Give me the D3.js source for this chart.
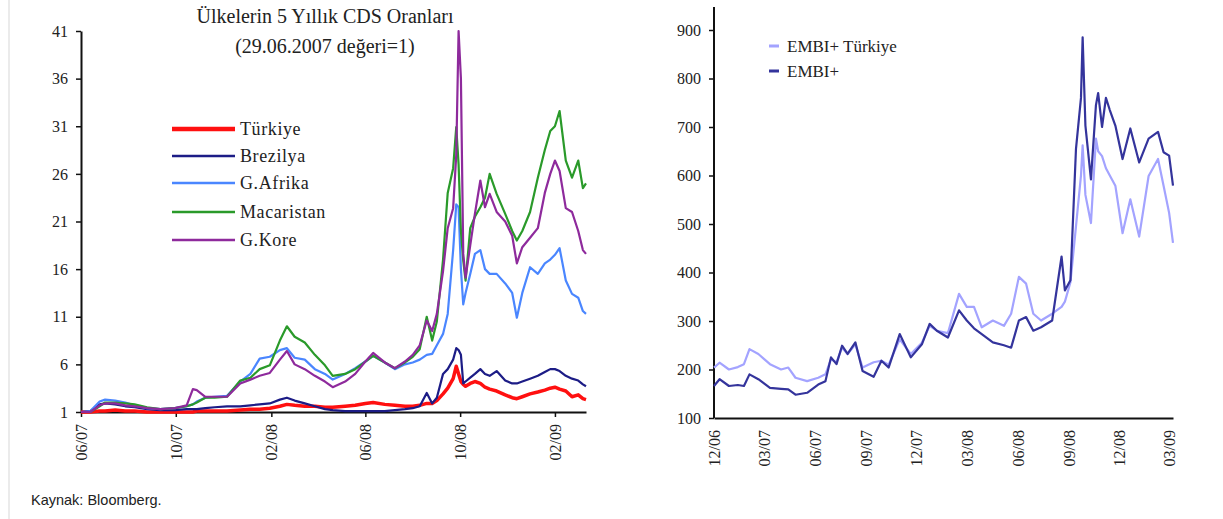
<!DOCTYPE html>
<html>
<head>
<meta charset="utf-8">
<script src="https://cdn.jsdelivr.net/npm/d3@7"></script>
<style>
  body { margin: 0; background: #fff; }
  svg { display: block; }
  .tick text { font-family: "Liberation Serif", "Times New Roman", serif; fill: #222; }
</style>
</head>
<body>
<div id="chart"></div>
<script>
// ---- left chart: 5-year CDS, 29.06.2007 = 1 ----
var cdsDates = ["2007-06-29","2007-07-11","2007-07-23","2007-07-30","2007-08-12","2007-08-25","2007-09-06","2007-09-22",
  "2007-10-09","2007-10-28","2007-11-12","2007-11-20","2007-11-25","2007-12-06","2007-12-18","2008-01-03","2008-01-20",
  "2008-02-02","2008-02-14","2008-02-27","2008-03-11","2008-03-20","2008-03-30","2008-04-12","2008-04-25","2008-05-08",
  "2008-05-18","2008-06-03","2008-06-16","2008-06-29","2008-07-09","2008-07-24","2008-08-06","2008-08-19","2008-08-29",
  "2008-09-07","2008-09-16","2008-09-23","2008-09-29","2008-10-07","2008-10-13","2008-10-20","2008-10-24","2008-10-27",
  "2008-10-30","2008-11-02","2008-11-05","2008-11-11","2008-11-17","2008-11-24","2008-11-30","2008-12-06","2008-12-15",
  "2008-12-26","2009-01-04","2009-01-10","2009-01-17","2009-01-27","2009-02-06","2009-02-15","2009-02-22","2009-02-28",
  "2009-03-06","2009-03-14","2009-03-22","2009-03-30","2009-04-05","2009-04-09"];
var turkiye = [1,1.0,1.1,1.1,1.2,1.1,1.1,1.0,1.0,1.0,1.0,1.0,1.1,1.1,1.1,1.1,1.2,1.3,1.3,1.4,1.6,1.8,1.7,1.6,1.6,1.5,
  1.5,1.6,1.7,1.9,2.0,1.8,1.7,1.6,1.6,1.7,1.9,1.9,2.2,2.9,3.5,4.5,5.8,5.0,4.2,3.9,3.7,4.0,4.2,4.0,3.6,3.4,3.2,
  2.8,2.5,2.4,2.6,2.9,3.1,3.3,3.5,3.6,3.4,3.2,2.6,2.8,2.4,2.3];
var brezilya = [1,1.1,1.8,1.9,1.8,1.6,1.5,1.3,1.2,1.2,1.3,1.3,1.3,1.4,1.5,1.6,1.6,1.7,1.8,1.9,2.3,2.5,2.2,1.9,1.6,1.3,
  1.2,1.1,1.1,1.1,1.1,1.1,1.2,1.3,1.4,1.6,3.0,1.9,2.5,5.0,5.5,6.5,7.7,7.5,7.0,4.0,4.2,4.6,5.0,5.5,5.0,4.8,5.3,
  4.3,4.0,4.0,4.2,4.5,4.8,5.2,5.5,5.5,5.3,4.8,4.5,4.3,3.9,3.7];
var gAfrika = [1,1.1,2.1,2.3,2.2,2.0,1.7,1.4,1.3,1.4,1.6,1.8,2.1,2.5,2.6,2.7,4.2,5.0,6.6,6.8,7.5,7.7,6.7,6.5,5.5,5.0,
  4.4,5.0,5.6,6.3,6.9,6.2,5.5,6.0,6.2,6.5,7.0,7.1,8.0,9.2,11.3,18.0,22.8,22.5,16.0,12.3,13.5,15.5,17.6,18.0,16.0,
  15.5,15.5,14.5,13.5,10.9,13.5,16.2,15.5,16.6,17.0,17.5,18.2,14.8,13.4,13.0,11.6,11.3];
var macaristan = [1,1.0,1.6,2.0,2.0,1.9,1.8,1.5,1.3,1.4,1.6,1.8,2.0,2.5,2.5,2.6,4.3,4.6,5.5,5.9,8.5,10.0,8.9,8.3,7.0,
  5.9,4.8,5.0,5.5,6.3,6.9,6.2,5.6,6.2,6.8,7.6,11.0,8.5,10.5,17.0,24.0,26.6,30.9,27.0,20.0,16.9,14.8,20.3,21.5,22.5,
  23.5,26.0,23.9,21.8,20.0,19.0,20.0,22.0,25.6,28.5,30.5,31.0,32.6,27.4,25.6,27.4,24.5,25.0];
var gKore = [1,1.0,1.7,1.9,1.9,1.7,1.6,1.4,1.3,1.4,1.7,3.4,3.3,2.6,2.6,2.6,4.0,4.4,4.8,5.1,6.5,7.4,6.0,5.5,4.8,4.2,
  3.6,4.2,5.0,6.3,7.2,6.2,5.6,6.3,7.0,8.0,10.6,9.5,11.3,15.8,20.3,22.4,28.0,41.0,36.0,17.6,15.1,18.5,21.8,25.3,22.5,
  23.9,22.0,21.0,19.5,16.6,18.3,19.3,20.3,24.0,26.0,27.4,26.3,22.4,22.0,20.0,18.0,17.6];
var cdsNames = ["Türkiye", "Brezilya", "G.Afrika", "Macaristan", "G.Kore"];
var cdsColors = ["#ff1010", "#1c1c86", "#4a86ff", "#2a9a2a", "#8e2a9c"];
var cdsYTicks = [1, 6, 11, 16, 21, 26, 31, 36, 41];
var cdsXTicks = ["2007-06-29","2007-10-29","2008-02-29","2008-06-29","2008-10-29","2009-02-28"];

// ---- right chart: EMBI+ spreads ----
var embiDates = ["2006-12-29","2007-01-08","2007-01-25","2007-02-10","2007-02-21","2007-03-03","2007-03-19","2007-04-09",
  "2007-04-29","2007-05-12","2007-05-25","2007-06-15","2007-07-05","2007-07-18","2007-07-28","2007-08-07","2007-08-17",
  "2007-08-27","2007-09-10","2007-09-23","2007-10-13","2007-10-27","2007-11-09","2007-11-29","2007-12-19","2008-01-08",
  "2008-01-22","2008-02-04","2008-02-24","2008-03-15","2008-03-29","2008-04-11","2008-04-25","2008-05-15","2008-06-04",
  "2008-06-17","2008-07-01","2008-07-14","2008-07-27","2008-08-10","2008-08-30","2008-09-16","2008-09-22","2008-10-02",
  "2008-10-12","2008-10-21","2008-10-24","2008-10-29","2008-11-08","2008-11-17","2008-11-21","2008-11-28","2008-12-05",
  "2008-12-12","2008-12-22","2009-01-04","2009-01-18","2009-02-03","2009-02-20","2009-03-09","2009-03-19","2009-03-29",
  "2009-04-05"];
var embiTurkiye = [204,214,200,205,211,242,232,211,200,204,183,176,183,190,221,215,245,232,252,204,215,218,210,262,232,
  255,290,280,275,356,329,329,287,301,290,315,391,377,315,301,315,329,340,380,495,600,662,560,502,676,650,640,615,600,
  579,481,551,474,599,634,579,523,461];
var embiPlus = [166,180,166,168,166,190,180,162,160,159,148,152,169,176,225,211,249,232,256,197,185,218,204,273,225,
  252,294,280,266,322,301,285,273,256,250,245,301,308,280,287,301,433,363,384,655,760,885,703,592,745,770,700,760,735,
  703,634,697,627,676,690,648,641,579];
var embiNames = ["EMBI+ Türkiye", "EMBI+"];
var embiColors = ["#a3a3ff", "#34349c"];
var embiYTicks = [100, 200, 300, 400, 500, 600, 700, 800, 900];
var embiXTicks = ["2006-12-29","2007-03-29","2007-06-29","2007-09-29","2007-12-29","2008-03-29","2008-06-29",
  "2008-09-29","2008-12-29","2009-03-29"];

var W = 1223, H = 519;
var parse = d3.timeParse("%Y-%m-%d");
var fmt = d3.timeFormat("%m/%y");
var serif = '"Liberation Serif", "Times New Roman", serif';

var svg = d3.select("#chart").append("svg")
  .attr("width", W)
  .attr("height", H);

svg.append("rect").attr("width", W).attr("height", H).attr("fill", "#fff");
svg.append("line")
  .attr("x1", 9).attr("x2", 9).attr("y1", 0).attr("y2", H)
  .attr("stroke", "#e4e4e4").attr("stroke-width", 1.5);

function styleAxis(g) {
  g.select(".domain").attr("stroke", "#111").attr("stroke-width", 2);
  g.selectAll(".tick line").attr("stroke", "#111").attr("stroke-width", 1.5);
  g.selectAll(".tick text").style("font-size", "16px");
}

function rotateLabels(g) {
  g.selectAll(".tick text")
    .attr("transform", "rotate(-90)")
    .attr("text-anchor", "end")
    .attr("x", -12)
    .attr("y", 0)
    .attr("dy", "0.35em");
}

// ---------- left chart ----------
var xL = d3.scaleTime()
  .domain([parse("2007-06-29"), parse("2009-04-09")])
  .range([81, 586]);
var yL = d3.scaleLinear()
  .domain([1, 41])
  .range([412, 31]);

var gLy = svg.append("g")
  .attr("transform", "translate(81,0)")
  .call(d3.axisLeft(yL).tickValues(cdsYTicks).tickSize(5).tickSizeOuter(0).tickPadding(8));
styleAxis(gLy);

var gLx = svg.append("g")
  .attr("transform", "translate(0,412)")
  .call(d3.axisBottom(xL).tickValues(cdsXTicks.map(parse)).tickFormat(fmt).tickSize(5).tickSizeOuter(0));
styleAxis(gLx);
rotateLabels(gLx);

var cdsSeries = [turkiye, brezilya, gAfrika, macaristan, gKore];
var lineL = d3.line()
  .x(d => xL(d.date))
  .y(d => yL(d.v));

cdsSeries.forEach(function(vals, i) {
  var data = cdsDates.map((d, j) => ({date: parse(d), v: vals[j]}));
  svg.append("path")
    .datum(data)
    .attr("fill", "none")
    .attr("stroke", cdsColors[i])
    .attr("stroke-width", i === 0 ? 3.5 : 2.2)
    .attr("stroke-linejoin", "round")
    .attr("d", lineL);
});

// title
svg.append("text")
  .attr("x", 325).attr("y", 23)
  .attr("text-anchor", "middle")
  .style("font-family", serif).style("font-size", "20px").style("fill", "#222")
  .text("Ülkelerin 5 Yıllık CDS Oranları");
svg.append("text")
  .attr("x", 325).attr("y", 53)
  .attr("text-anchor", "middle")
  .style("font-family", serif).style("font-size", "20px").style("fill", "#222")
  .text("(29.06.2007 değeri=1)");

// legend
var legL = svg.append("g");
cdsNames.forEach(function(name, i) {
  var yy = [129, 156, 183, 212, 240][i];
  legL.append("line")
    .attr("x1", 172).attr("x2", 235).attr("y1", yy).attr("y2", yy)
    .attr("stroke", cdsColors[i])
    .attr("stroke-width", i === 0 ? 4.5 : 2.5);
  legL.append("text")
    .attr("x", 240).attr("y", yy + 6)
    .style("font-family", serif).style("font-size", "18px").style("letter-spacing", "0.6px").style("fill", "#222")
    .text(name);
});

// ---------- right chart ----------
var xR = d3.scaleTime()
  .domain([parse("2006-12-29"), parse("2009-04-05")])
  .range([714, 1173]);
var yR = d3.scaleLinear()
  .domain([100, 900])
  .range([418, 30]);

var gRy = svg.append("g")
  .attr("transform", "translate(714,0)")
  .call(d3.axisLeft(yR).tickValues(embiYTicks).tickSize(5).tickSizeOuter(0).tickPadding(8));
styleAxis(gRy);
gRy.select(".domain").remove();
svg.append("line")
  .attr("x1", 714).attr("x2", 714).attr("y1", 7).attr("y2", 418)
  .attr("stroke", "#111").attr("stroke-width", 2);

var gRx = svg.append("g")
  .attr("transform", "translate(0,418)")
  .call(d3.axisBottom(xR).tickValues(embiXTicks.map(parse)).tickFormat(fmt).tickSize(0).tickSizeOuter(0));
styleAxis(gRx);
rotateLabels(gRx);

var lineR = d3.line()
  .x(d => xR(d.date))
  .y(d => yR(d.v));

[embiTurkiye, embiPlus].forEach(function(vals, i) {
  var data = embiDates.map((d, j) => ({date: parse(d), v: vals[j]}));
  svg.append("path")
    .datum(data)
    .attr("fill", "none")
    .attr("stroke", embiColors[i])
    .attr("stroke-width", 2.2)
    .attr("stroke-linejoin", "round")
    .attr("d", lineR);
});

var legR = svg.append("g");
embiNames.forEach(function(name, i) {
  var yy = 46 + i * 25;
  legR.append("line")
    .attr("x1", 769).attr("x2", 779).attr("y1", yy).attr("y2", yy)
    .attr("stroke", embiColors[i]).attr("stroke-width", 3);
  legR.append("text")
    .attr("x", 787).attr("y", yy + 6)
    .style("font-family", serif).style("font-size", "17px").style("fill", "#222")
    .text(name);
});

// source note
svg.append("text")
  .attr("x", 31).attr("y", 505)
  .style("font-family", '"Liberation Sans", Arial, sans-serif').style("font-size", "14.5px").style("fill", "#222")
  .text("Kaynak: Bloomberg.");
</script>
</body>
</html>
